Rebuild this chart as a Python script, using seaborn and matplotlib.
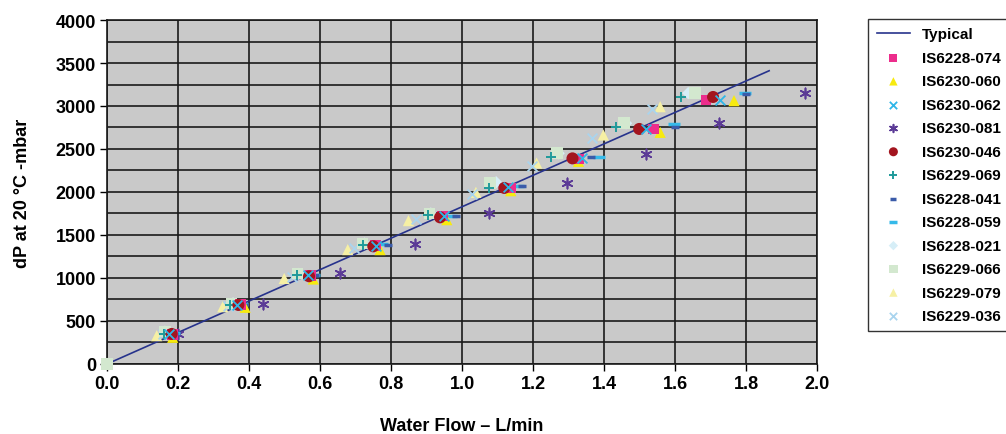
import matplotlib
matplotlib.use('Agg')
import matplotlib.pyplot as plt
import seaborn as sns
import pandas as pd
import numpy as np
from matplotlib.ticker import MultipleLocator

# Dados (vazão L/min, dP mbar)
typical_x = [0.0, 1.865]
typical_y = [0, 3410]

s074_x = [0.185, 0.375, 0.573, 0.757, 0.945, 1.137, 1.328, 1.539, 1.687]
s074_y = [340, 690, 1030, 1375, 1720, 2047, 2384, 2733, 3070]

s060_x = [0.185, 0.389, 0.581, 0.769, 0.957, 1.137, 1.328, 1.558, 1.766]
s060_y = [310, 659, 988, 1330, 1678, 2015, 2357, 2694, 3062]

s062_x = [0.175, 0.365, 0.565, 0.757, 0.950, 1.130, 1.337, 1.517, 1.727]
s062_y = [345, 690, 1030, 1370, 1715, 2055, 2392, 2733, 3070]

s081_x = [0.201, 0.439, 0.656, 0.868, 1.077, 1.297, 1.517, 1.725, 1.966]
s081_y = [349, 698, 1054, 1400, 1752, 2105, 2442, 2800, 3148]

s046_x = [0.182, 0.370, 0.569, 0.750, 0.938, 1.119, 1.311, 1.499, 1.707]
s046_y = [349, 686, 1020, 1368, 1705, 2047, 2391, 2733, 3105]

s069_x = [0.160, 0.345, 0.535, 0.720, 0.905, 1.076, 1.250, 1.434, 1.617]
s069_y = [350, 690, 1040, 1380, 1730, 2043, 2411, 2760, 3105]

s041_x = [0.190, 0.385, 0.585, 0.792, 0.982, 1.170, 1.362, 1.600, 1.800]
s041_y = [345, 690, 1030, 1384, 1725, 2070, 2411, 2760, 3140]

s059_x = [0.188, 0.380, 0.583, 0.775, 0.970, 1.157, 1.387, 1.597, 1.797]
s059_y = [355, 700, 1040, 1390, 1725, 2073, 2411, 2791, 3148]

s021_x = [0.0, 0.163, 0.355, 0.540, 0.725, 0.912, 1.096, 1.272, 1.462, 1.637]
s021_y = [0, 376, 705, 1047, 1400, 1750, 2113, 2450, 2799, 3150]

s066_x = [0.0, 0.163, 0.351, 0.537, 0.720, 0.908, 1.079, 1.268, 1.457, 1.656]
s066_y = [0, 376, 705, 1050, 1403, 1752, 2105, 2450, 2799, 3150]

s079_x = [0.0, 0.140, 0.326, 0.499, 0.678, 0.849, 1.039, 1.210, 1.398, 1.558]
s079_y = [0, 329, 666, 994, 1330, 1667, 1996, 2337, 2663, 2992]

s036_x = [0.0, 0.159, 0.342, 0.520, 0.695, 0.870, 1.027, 1.196, 1.367, 1.534]
s036_y = [0, 349, 678, 1010, 1350, 1690, 1977, 2306, 2624, 2965]

series = [
    ('IS6228-074', s074_x, s074_y),
    ('IS6230-060', s060_x, s060_y),
    ('IS6230-062', s062_x, s062_y),
    ('IS6230-081', s081_x, s081_y),
    ('IS6230-046', s046_x, s046_y),
    ('IS6229-069', s069_x, s069_y),
    ('IS6228-041', s041_x, s041_y),
    ('IS6228-059', s059_x, s059_y),
    ('IS6228-021', s021_x, s021_y),
    ('IS6229-066', s066_x, s066_y),
    ('IS6229-079', s079_x, s079_y),
    ('IS6229-036', s036_x, s036_y),
]

# estilo de cada série: (marcador, cor, tamanho, linewidth)
estilos = {
    'IS6228-074': ('s', '#ec2d8c', 60, 0),
    'IS6230-060': ('^', '#f7ea0f', 65, 0),
    'IS6230-062': ('x', '#2fb6e8', 50, 1.3),
    'IS6230-081': ((6, 2, 0), '#5b3a96', 55, 1.2),
    'IS6230-046': ('o', '#a3151f', 75, 0),
    'IS6229-069': ('+', '#1f9a9a', 55, 1.4),
    'IS6228-041': ('_', '#3a5ba9', 40, 2.5),
    'IS6228-059': ('_', '#35b9e9', 70, 2.5),
    'IS6228-021': ('D', '#d6eef7', 40, 0),
    'IS6229-066': ('s', '#d3e8cf', 70, 0),
    'IS6229-079': ('^', '#f6f0a4', 65, 0),
    'IS6229-036': ('x', '#a9d4ee', 50, 1.3),
}

plt.rcParams['font.family'] = ['Liberation Sans', 'DejaVu Sans']

fig = plt.figure(figsize=(10.06, 4.35), dpi=100)
ax = fig.add_axes([0.1064, 0.161, 0.7058, 0.7907])
ax.set_facecolor('#c9c9c9')
ax.set_axisbelow(True)

# linha típica
sns.lineplot(x=typical_x, y=typical_y, ax=ax, color='#27338c', linewidth=1.2,
             label='Typical', zorder=2)

# ordem de desenho: séries claras primeiro, escuras por cima
ordem_desenho = ['IS6229-079', 'IS6229-036', 'IS6228-021', 'IS6229-066', 'IS6229-069',
                 'IS6230-081', 'IS6228-059', 'IS6228-041', 'IS6230-060', 'IS6228-074',
                 'IS6230-046', 'IS6230-062']
dados = {nome: (xs, ys) for nome, xs, ys in series}
handles = {}
for z, nome in enumerate(ordem_desenho):
    xs, ys = dados[nome]
    m, c, s, lw = estilos[nome]
    kw = dict(marker=m, s=s, ax=ax, zorder=3 + z, clip_on=False)
    if lw > 0:
        kw.update(color=c, linewidth=lw)
    else:
        kw.update(color=c, edgecolor='none')
    sns.scatterplot(x=xs, y=ys, **kw)
    handles[nome] = ax.collections[-1]

ax.set_xlim(0, 2.0)
ax.set_ylim(0, 4000)
ax.yaxis.set_major_locator(MultipleLocator(500))
ax.yaxis.set_minor_locator(MultipleLocator(250))
ax.grid(True, which='both', color='#1a1a1a', linewidth=1.2)
ax.tick_params(axis='both', which='major', length=5, width=1, labelsize=13, pad=3)
ax.tick_params(axis='y', which='minor', length=0)
ax.set_xticks(np.arange(0, 2.01, 0.2))
ax.set_xticklabels([f'{v:.1f}' for v in np.arange(0, 2.01, 0.2)])
for lab in ax.get_xticklabels() + ax.get_yticklabels():
    lab.set_fontweight('bold')
for sp in ax.spines.values():
    sp.set_color('#1a1a1a')
    sp.set_linewidth(1.2)

ax.set_xlabel('Water Flow – L/min', fontsize=13, fontweight='bold', labelpad=18)
ax.set_ylabel('dP at 20 °C -mbar', fontsize=13, fontweight='bold', labelpad=18)

# legenda
leg_handles = [ax.get_lines()[0]] + [handles[n] for n, _, _ in series]
leg_labels = ['Typical'] + [n for n, _, _ in series]
if ax.get_legend():
    ax.get_legend().remove()
leg = fig.legend(leg_handles, leg_labels, loc='upper left',
                 bbox_to_anchor=(0.863, 0.954), borderaxespad=0,
                 frameon=True, fancybox=False,
                 fontsize=11, labelspacing=0.62, handlelength=2.2,
                 handletextpad=0.75, borderpad=0.55, markerscale=0.75)
leg.get_frame().set_edgecolor('black')
leg.get_frame().set_linewidth(1.0)
for t in leg.get_texts():
    t.set_fontweight('semibold')

fig.savefig('out.png', dpi=100)
